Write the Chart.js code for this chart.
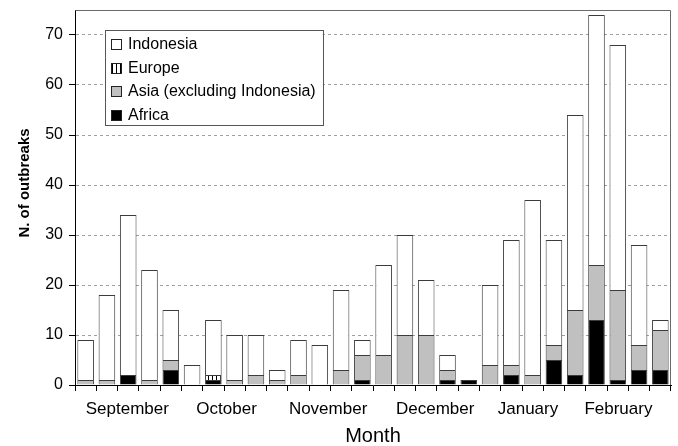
<!DOCTYPE html>
<html>
<head>
<meta charset="utf-8">
<script src="https://cdn.jsdelivr.net/npm/chart.js@4/dist/chart.umd.min.js"></script>
<style>
  html, body { margin: 0; padding: 0; background: #fff; }
  #wrap { width: 678px; height: 446px; }
</style>
</head>
<body>
<div id="wrap"><canvas id="c" width="678" height="446"></canvas></div>
<script>
// Weekly outbreak counts, September to February
const weeks = ['W1','W2','W3','W4','W5','W6','W7','W8','W9','W10','W11','W12','W13','W14',
               'W15','W16','W17','W18','W19','W20','W21','W22','W23','W24','W25','W26','W27','W28'];
const africa    = [0,0,2,0,3,0,1,0,0,0,0,0,0,1,0,0,0,1,1,0,2,0,5,2,13,1,3,3];
const europe    = [0,0,0,0,0,0,1,0,0,0,0,0,0,0,0,0,0,0,0,0,0,0,0,0,0,0,0,0];
const asia      = [1,1,0,1,2,0,0,1,2,1,2,0,3,5,6,10,10,2,0,4,2,2,3,13,11,18,5,8];
const indonesia = [8,17,32,22,10,4,11,9,8,2,7,8,16,3,18,20,11,3,0,16,25,35,21,39,50,49,20,2];

// Month labels and where they sit along the week axis (in week-index units)
const monthNames  = ['September','October','November','December','January','February'];
const monthTickAt = [1.96, 6.62, 11.39, 16.42, 20.78, 25.03];
const yTicks = [0,10,20,30,40,50,60,70];

const FONT = '"Liberation Sans", Arial, Helvetica, sans-serif';
Chart.defaults.font.family = FONT;
Chart.defaults.color = '#000';

function stripes() {
  const p = document.createElement('canvas');
  p.width = 4; p.height = 4;
  const g = p.getContext('2d');
  g.fillStyle = '#fff'; g.fillRect(0, 0, 4, 4);
  g.fillStyle = '#000'; g.fillRect(0, 0, 1, 4);
  return g.createPattern(p, 'repeat');
}
const europeFill = stripes();

const seriesStyle = {
  'Indonesia': '#ffffff',
  'Europe': europeFill,
  'Asia (excluding Indonesia)': '#c0c0c0',
  'Africa': '#000000'
};
const legendOrder = ['Indonesia', 'Europe', 'Asia (excluding Indonesia)', 'Africa'];

const decorations = {
  id: 'decorations',
  afterDraw(chart) {
    const ctx = chart.ctx;
    const a = chart.chartArea;
    const xs = chart.scales.x;
    ctx.save();

    // top and right frame
    ctx.strokeStyle = '#6a6a6a';
    ctx.lineWidth = 1;
    ctx.beginPath();
    ctx.moveTo(Math.round(a.left) + 0.5, Math.round(a.top) + 0.5);
    ctx.lineTo(Math.round(a.right) - 0.5, Math.round(a.top) + 0.5);
    ctx.lineTo(Math.round(a.right) - 0.5, Math.round(a.bottom));
    ctx.stroke();

    // month labels under the week axis
    ctx.font = '17px ' + FONT;
    ctx.fillStyle = '#000';
    ctx.textAlign = 'center';
    ctx.textBaseline = 'alphabetic';
    monthNames.forEach((m, i) => {
      ctx.fillText(m, xs.getPixelForValue(monthTickAt[i]), a.bottom + 28.5);
    });

    // legend box
    const bx = Math.round(a.left) + 30.5, by = Math.round(a.top) + 20.5;
    const bw = 218, bh = 95;
    ctx.fillStyle = '#fff';
    ctx.fillRect(bx, by, bw, bh);
    ctx.strokeStyle = '#555';
    ctx.strokeRect(bx, by, bw, bh);
    ctx.font = '16px ' + FONT;
    ctx.textBaseline = 'middle';
    ctx.textAlign = 'left';
    legendOrder.forEach((name, i) => {
      const cy = by + 13.5 + i * 23.5;
      ctx.fillStyle = seriesStyle[name];
      ctx.fillRect(bx + 6, Math.round(cy - 5) + 0.5, 10, 10);
      ctx.strokeStyle = '#222';
      ctx.strokeRect(bx + 6, Math.round(cy - 5) + 0.5, 10, 10);
      ctx.fillStyle = '#000';
      ctx.fillText(name, bx + 22.5, cy + 1);
    });

    // y axis title
    ctx.translate(25, 183);
    ctx.rotate(-Math.PI / 2);
    ctx.font = 'bold 15px ' + FONT;
    ctx.textAlign = 'center';
    ctx.textBaseline = 'middle';
    ctx.fillStyle = '#000';
    ctx.fillText('N. of outbreaks', 0, 0);
    ctx.restore();
  }
};

function ds(label, data) {
  return {
    label, data,
    backgroundColor: seriesStyle[label],
    borderColor: '#3c3c3c',
    borderWidth: 1,
    borderSkipped: 'start',
    barPercentage: 0.78,
    categoryPercentage: 1
  };
}

new Chart(document.getElementById('c'), {
  type: 'bar',
  data: {
    labels: weeks,
    datasets: [
      ds('Africa', africa),
      ds('Europe', europe),
      ds('Asia (excluding Indonesia)', asia),
      ds('Indonesia', indonesia)
    ]
  },
  options: {
    responsive: false,
    animation: false,
    layout: { padding: { top: 10, right: 7, left: 0, bottom: 0 } },
    plugins: { legend: { display: false }, tooltip: { enabled: false } },
    scales: {
      x: {
        stacked: true,
        position: 'bottom',
        offset: true,
        grid: { drawOnChartArea: false, drawTicks: true, tickLength: 6, color: '#000', offset: true },
        border: { color: '#000' },
        ticks: { display: false },
        title: { display: true, text: 'Month', font: { size: 20, lineHeight: 1 }, color: '#000', padding: { top: 0, bottom: 0 } },
        afterFit(s) { s.height = 61; s.paddingLeft = 0; s.paddingRight = 0; }
      },
      y: {
        stacked: true,
        min: 0,
        max: 75,
        afterBuildTicks(s) { s.ticks = yTicks.map(v => ({ value: v })); },
        grid: {
          color: c => (c.tick && c.tick.value === 0) ? 'rgba(0,0,0,0)' : '#a0a0a0',
          tickColor: '#000',
          tickLength: 6,
          tickBorderDash: []
        },
        border: { color: '#000', dash: [3, 3] },
        ticks: { font: { size: 16 }, color: '#000', padding: 6 },
        afterFit(s) { s.width = 75; s.paddingTop = 0; s.paddingBottom = 0; }
      }
    }
  },
  plugins: [decorations]
});
</script>
</body>
</html>
